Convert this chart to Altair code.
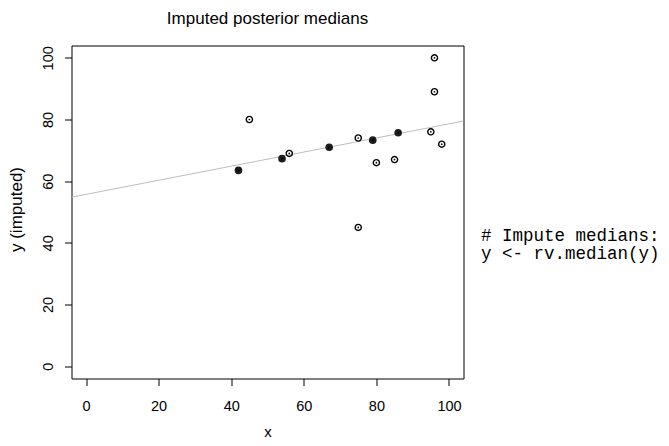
import altair as alt
import pandas as pd

# Observed (filled) points
x_obs = [42, 54, 67, 79, 86]
y_obs = [63.5, 67.3, 71.0, 73.3, 75.7]
# Imputed (open) points
x_imp = [45, 56, 75, 75, 80, 85, 95, 96, 96, 98]
y_imp = [80.0, 69.0, 74.0, 45.0, 66.0, 67.0, 76.0, 100.0, 89.0, 72.0]
# Fitted line endpoints (read at the plot edges)
line_x = [-4, 104]
line_y = [54.8, 79.5]
# Tick values
ticks = [0, 20, 40, 60, 80, 100]
title_text = "Imputed posterior medians"
code_lines = ["# Impute medians:", "y <- rv.median(y)"]

W, H = 392, 333
xs = alt.Scale(domain=[-4, 104], nice=False, zero=False)
ys = alt.Scale(domain=[-4, 104], nice=False, zero=False)

obs = pd.DataFrame({"x": x_obs, "y": y_obs})
imp = pd.DataFrame({"x": x_imp, "y": y_imp})
ln = pd.DataFrame({"x": line_x, "y": line_y})
allpts = pd.concat([obs, imp])
code = pd.DataFrame({"t": ["\n".join(code_lines)]})
ttl = pd.DataFrame({"t": [title_text]})

xax = alt.Axis(values=ticks, domain=False, grid=False, tickColor="black", tickSize=7,
               tickWidth=1, labelFont="Liberation Sans", labelFontSize=14.5,
               labelColor="black", labelBaseline="alphabetic", labelPadding=24.7,
               labelFlush=False, labelOverlap=False,
               title="x", titleFont="Liberation Sans", titleFontSize=15,
               titleFontWeight="normal", titleColor="black", titleBaseline="alphabetic",
               titleAlign="center", titleX=W / 2, titleY=57.5)
yax = alt.Axis(values=ticks, domain=False, grid=False, tickColor="black", tickSize=7,
               tickWidth=1, labelFont="Liberation Sans", labelFontSize=14.5,
               labelColor="black", labelAngle=270, labelAlign="center",
               labelBaseline="alphabetic", labelPadding=11.7,
               labelFlush=False, labelOverlap=False,
               title="y (imputed)", titleFont="Liberation Sans", titleFontSize=17,
               titleFontWeight="normal", titleColor="black", titleBaseline="alphabetic",
               titleAlign="center", titleAngle=270, titleX=-50, titleY=H / 2 - 3)

line = alt.Chart(ln).mark_line(color="#bdbdbd", strokeWidth=1, clip=True).encode(
    x=alt.X("x:Q", scale=xs, axis=xax),
    y=alt.Y("y:Q", scale=ys, axis=yax),
)
open_pts = alt.Chart(imp).mark_point(shape="circle", filled=False, color="black",
                                     strokeWidth=1.4, size=38, opacity=1).encode(
    x=alt.X("x:Q", scale=xs), y=alt.Y("y:Q", scale=ys))
filled_pts = alt.Chart(obs).mark_point(shape="circle", filled=True, color="#1c1c1c",
                                       size=58, opacity=1).encode(
    x=alt.X("x:Q", scale=xs), y=alt.Y("y:Q", scale=ys))
dots = alt.Chart(allpts).mark_point(shape="circle", filled=True, color="black",
                                    size=3, opacity=1).encode(
    x=alt.X("x:Q", scale=xs), y=alt.Y("y:Q", scale=ys))
txt = alt.Chart(code).mark_text(font="Liberation Mono", fontSize=17.5, align="left",
                                baseline="alphabetic", lineBreak="\n", lineHeight=18.3,
                                color="black", clip=False).encode(
    x=alt.value(409.5), y=alt.value(195.7), text="t:N")
title = alt.Chart(ttl).mark_text(font="Liberation Sans", fontSize=17, align="center",
                                 baseline="alphabetic", color="black").encode(
    x=alt.value(W / 2), y=alt.value(-22), text="t:N")

chart = alt.layer(line, open_pts, filled_pts, dots, txt, title).properties(
    width=W, height=H,
    autosize=alt.AutoSizeParams(type="none"),
    padding={"left": 63.5, "top": 37.5, "right": 197, "bottom": 60},
).configure(background="white").configure_view(stroke="black", strokeWidth=1)

chart.save("out.html", embed_options={"renderer": "svg", "actions": False})
